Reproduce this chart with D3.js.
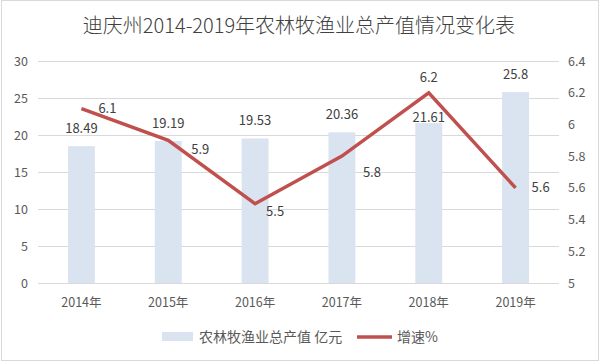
<!DOCTYPE html>
<meta charset="utf-8">
<style>
body { margin: 0; background: #fff; }
text { font-family: "Noto Sans CJK SC", "Liberation Sans", sans-serif; fill: #595959; }
.grid line { stroke: #d9d9d9; shape-rendering: crispEdges; }
.bar { fill: #dae3f0; }
.line { fill: none; stroke: #c0504d; stroke-width: 3.5px; stroke-linejoin: miter; }
</style>
<body>
<script src="https://cdn.jsdelivr.net/npm/d3@7"></script>
<script>

// data
var years = ["2014年", "2015年", "2016年", "2017年", "2018年", "2019年"];
var output = [18.49, 19.19, 19.53, 20.36, 21.61, 25.8];   // 农林牧渔业总产值 亿元
var growth = [6.1, 5.9, 5.5, 5.8, 6.2, 5.6];              // 增速%
var leftTicks = [0, 5, 10, 15, 20, 25, 30];
var rightTicks = [5, 5.2, 5.4, 5.6, 5.8, 6, 6.2, 6.4];

// label nudges (layout only)
var barLabelDy = [0, 0, 0, 0, 12, 0];
var lineLabelOff = [[26, 0], [32, 9], [20, 8], [30, 16], [0, -15], [25, 0]];

var W = 602, H = 364;
var plotL = 38, plotR = 559, plotT = 61, plotB = 283;

var svg = d3.select("body").append("svg")
    .attr("width", W)
    .attr("height", H);

// outer frame
svg.append("rect")
    .attr("x", 1.5).attr("y", 0.5)
    .attr("width", 597).attr("height", 360)
    .attr("fill", "#fff")
    .attr("stroke", "#d9d9d9");

var x = d3.scaleBand().domain(years).range([plotL, plotR]);
var yL = d3.scaleLinear().domain([0, 30]).range([plotB, plotT]);
var yR = d3.scaleLinear().domain([5, 6.4]).range([plotB, plotT]);

// title
svg.append("text")
    .attr("x", 299).attr("y", 33)
    .attr("text-anchor", "middle")
    .style("font-size", "20px")
    .style("font-weight", "300")
    .style("fill", "#404040")
    .text("迪庆州2014-2019年农林牧渔业总产值情况变化表");

// grid lines
svg.append("g")
    .attr("class", "grid")
    .attr("transform", "translate(" + plotL + ",0)")
    .call(d3.axisLeft(yL).tickValues(leftTicks).tickSize(-(plotR - plotL)).tickFormat(""))
    .call(function(g) { g.select(".domain").remove(); });

// left axis labels
svg.append("g")
    .selectAll("text")
    .data(leftTicks)
    .enter().append("text")
    .attr("x", 28)
    .attr("y", function(d) { return yL(d) + 4.5; })
    .attr("text-anchor", "end")
    .style("font-size", "12.5px")
    .text(function(d) { return d; });

// right axis labels
svg.append("g")
    .selectAll("text")
    .data(rightTicks)
    .enter().append("text")
    .attr("x", 568)
    .attr("y", function(d) { return yR(d) + 4.5; })
    .style("font-size", "12.5px")
    .text(function(d) { return d3.format("~g")(d); });

// x axis labels
svg.append("g")
    .selectAll("text")
    .data(years)
    .enter().append("text")
    .attr("x", function(d) { return x(d) + x.bandwidth() / 2; })
    .attr("y", 307)
    .attr("text-anchor", "middle")
    .style("font-size", "12.5px")
    .text(function(d) { return d; });

// bars
var bw = x.bandwidth() * 0.31;
svg.append("g")
    .selectAll("rect")
    .data(output)
    .enter().append("rect")
    .attr("class", "bar")
    .attr("x", function(d, i) { return x(years[i]) + x.bandwidth() / 2 - bw / 2; })
    .attr("y", function(d) { return yL(d); })
    .attr("width", bw)
    .attr("height", function(d) { return plotB - yL(d); });

svg.append("g")
    .selectAll("text")
    .data(output)
    .enter().append("text")
    .attr("x", function(d, i) { return x(years[i]) + x.bandwidth() / 2; })
    .attr("y", function(d, i) { return yL(d) - 13 + barLabelDy[i]; })
    .attr("text-anchor", "middle")
    .style("font-size", "13px")
    .style("fill", "#404040")
    .text(function(d) { return d; });

// growth line
var line = d3.line()
    .x(function(d, i) { return x(years[i]) + x.bandwidth() / 2; })
    .y(function(d) { return yR(d); });

svg.append("path")
    .datum(growth)
    .attr("class", "line")
    .attr("d", line);

svg.append("g")
    .selectAll("text")
    .data(growth)
    .enter().append("text")
    .attr("x", function(d, i) { return x(years[i]) + x.bandwidth() / 2 + lineLabelOff[i][0]; })
    .attr("y", function(d, i) { return yR(d) + 4.5 + lineLabelOff[i][1]; })
    .attr("text-anchor", "middle")
    .style("font-size", "13px")
    .style("fill", "#404040")
    .text(function(d) { return d; });

// legend
var lg = svg.append("g");
lg.append("rect")
    .attr("x", 162).attr("y", 332)
    .attr("width", 31).attr("height", 9)
    .attr("class", "bar");
lg.append("text")
    .attr("x", 199).attr("y", 342)
    .style("font-size", "14px")
    .text("农林牧渔业总产值 亿元");
lg.append("line")
    .attr("x1", 357).attr("x2", 392)
    .attr("y1", 337).attr("y2", 337)
    .attr("stroke", "#c0504d")
    .attr("stroke-width", 3.5);
lg.append("text")
    .attr("x", 397).attr("y", 342)
    .style("font-size", "14px")
    .text("增速%");

</script>
</body>
